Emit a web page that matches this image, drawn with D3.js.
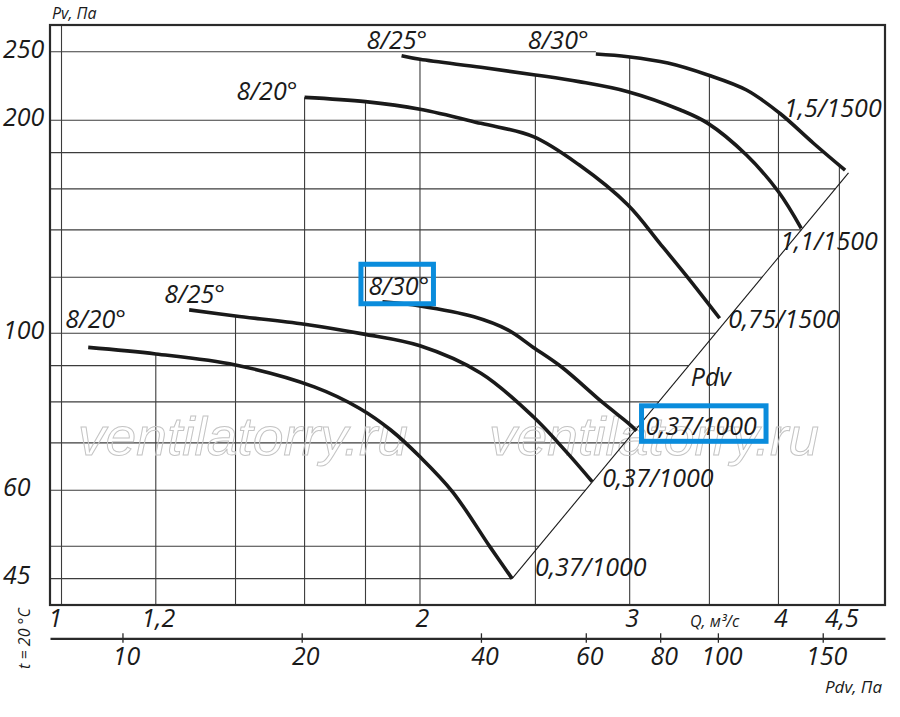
<!DOCTYPE html>
<html><head><meta charset="utf-8">
<script src="https://cdn.jsdelivr.net/npm/d3@7"></script>
<style>
html,body{margin:0;padding:0;background:#fff;}
svg{display:block;}
text{font-family:"Open Sans","Liberation Sans",sans-serif;font-style:italic;fill:#1a1a1a;}
</style></head><body>
<svg id="chart" width="900" height="717"></svg>
<script>
// ---------------- data ----------------
const qGrid = [1, 1.2, 1.4, 1.6, 1.8, 2, 2.5, 3, 3.5, 4, 4.5];
const qTickLabels = [1, 1.2, 2, 3, 4, 4.5];
const pGrid = [45, 50, 60, 70, 80, 90, 100, 120, 140, 160, 180, 200, 250];
const pTickLabels = [45, 60, 100, 200, 250];
const pdvTicks = [10, 20, 40, 60, 80, 100, 150];
const pdvCoef = 7.9;                // Pdv = 7.9 * Q^2
const qDomain = [0.978, 4.915];
const pDomain = [41.3, 272.7];

const bladeAngles = ["8/20°", "8/25°", "8/30°", "8/20°", "8/25°", "8/30°"];
const motors = ["0,37/1000", "0,37/1000", "0,37/1000", "0,75/1500", "1,1/1500", "1,5/1500"];

const curve1000_20 = [[1.053,95.5],[1.2,93.5],[1.4,90.2],[1.63,84],[1.78,78.3],[1.89,73],[2.0,66.9],[2.13,59.7],[2.29,49.9],[2.39,45]];
const curve1000_25 = [[1.28,107.9],[1.4,105.8],[1.6,103],[1.79,99.8],[2.0,96],[2.25,87.8],[2.49,76.2],[2.66,67.7],[2.79,61.7]];
const curve1000_30 = [[1.86,110.8],[2.0,109.3],[2.22,105.5],[2.37,101.1],[2.49,95.5],[2.63,89.6],[2.85,79.7],[2.99,74.7],[3.04,72.8]];
const curve1500_20 = [[1.6,215.5],[1.8,212.5],[2.0,207.3],[2.25,198],[2.49,189.6],[2.72,173],[2.99,151.8],[3.18,134],[3.37,118.9],[3.57,105]];
const curve1500_25 = [[1.93,246.8],[2.0,243.9],[2.25,237.6],[2.5,231.8],[2.72,226.8],[2.99,219.5],[3.31,206.8],[3.49,198],[3.76,178.6],[4.0,158.5],[4.18,140.7]];
const curve1500_30 = [[2.81,248.2],[2.99,246],[3.23,241],[3.49,231.8],[3.76,220.7],[4.01,204.6],[4.28,185.6],[4.55,170]];
const pdvLine = [[2.39,45],[4.58,168.5]];
const watermark = "ventilatorry.ru";

// ---------------- drawing ----------------
const curves = [curve1000_20, curve1000_25, curve1000_30, curve1500_20, curve1500_25, curve1500_30];
const svg = d3.select("#chart");
const L = 50, R = 885, T = 25, B = 605;
const x = d3.scaleLog().domain(qDomain).range([L, R]);
const y = d3.scaleLog().domain(pDomain).range([B, T]);
const xPdv = d3.scaleLog().domain(qDomain.map(q => pdvCoef * q * q)).range([L, R]);
const ink = "#1a1a1a";
const FS = "25px";

function pAt(c, q) {
  if (q < c[0][0] - 0.012 || q > c[c.length - 1][0] + 0.012) return null;
  q = Math.min(Math.max(q, c[0][0]), c[c.length - 1][0]);
  for (let i = 0; i < c.length - 1; i++) {
    const a = c[i], b = c[i + 1];
    if (q >= a[0] && q <= b[0]) {
      const t = (Math.log(q) - Math.log(a[0])) / (Math.log(b[0]) - Math.log(a[0]));
      return Math.exp(Math.log(a[1]) + t * (Math.log(b[1]) - Math.log(a[1])));
    }
  }
  return null;
}
function qAtP(c, p) {
  for (let i = 0; i < c.length - 1; i++) {
    const a = c[i], b = c[i + 1];
    const lo = Math.min(a[1], b[1]), hi = Math.max(a[1], b[1]);
    if (p >= lo && p <= hi) {
      const t = (Math.log(p) - Math.log(a[1])) / (Math.log(b[1]) - Math.log(a[1]));
      return Math.exp(Math.log(a[0]) + t * (Math.log(b[0]) - Math.log(a[0])));
    }
  }
  return null;
}

// grid
const grid = svg.append("g").attr("stroke", "#3c3c3c").attr("stroke-width", 1.1);
qGrid.forEach(q => {
  const ps = curves.map(c => pAt(c, q)).filter(v => v != null);
  const top = ps.length ? y(d3.max(ps)) : T;
  grid.append("line").attr("x1", x(q)).attr("x2", x(q)).attr("y1", top).attr("y2", B);
});
pGrid.forEach(p => {
  const xs = [];
  curves.forEach(c => {
    if (c[0][1] >= p && c[c.length - 1][1] < p) xs.push(x(qAtP(c, p)));
  });
  const dq = qAtP(pdvLine, p);
  if (dq != null) xs.push(x(dq));
  let right;
  if (xs.length) right = d3.max(xs);
  else {
    const top = curves.reduce((m, c) => (c[0][1] > m[0][1] ? c : m), curves[0]);
    right = x(top[0][0]);
  }
  grid.append("line").attr("x1", L).attr("x2", right).attr("y1", y(p)).attr("y2", y(p));
});

// watermark
svg.append("g").selectAll("text").data([78, 489]).join("text")
  .attr("x", d => d).attr("y", 455)
  .attr("textLength", 330).attr("lengthAdjust", "spacingAndGlyphs")
  .style("font-family", "'Liberation Sans', sans-serif")
  .style("font-size", "54px")
  .style("fill", "none").style("stroke", "#c4c4c4").style("stroke-width", 1)
  .text(watermark);

// frame
svg.append("rect").attr("x", L).attr("y", T).attr("width", R - L).attr("height", B - T)
  .attr("fill", "none").attr("stroke", "#2a2a2a").attr("stroke-width", 2.2);

// Pdv diagonal
const line = d3.line().x(d => x(d[0])).y(d => y(d[1]));
svg.append("path").attr("d", line(pdvLine)).attr("fill", "none").attr("stroke", ink).attr("stroke-width", 1.1);

// curves
const curveLine = d3.line().x(d => x(d[0])).y(d => y(d[1])).curve(d3.curveCatmullRom.alpha(0.5));
svg.append("g").selectAll("path").data(curves).join("path")
  .attr("d", d => curveLine(d)).attr("fill", "none").attr("stroke", ink).attr("stroke-width", 3.6);

// curve labels
const startOff = [[-23, -19], [-25, -6.5], [-14, -7], [-68, 3], [-35, -6.5], [-68, -5]];
const endOff = [[23, -2.5], [10, 5.5], [9, 4], [8.5, 10], [-21, 22], [-61, -53]];
const lab = svg.append("g").style("font-size", FS);
const startLabels = curves.map((c, i) => lab.append("text")
  .attr("x", x(c[0][0]) + startOff[i][0]).attr("y", y(c[0][1]) + startOff[i][1]).text(bladeAngles[i]));
const endLabels = curves.map((c, i) => lab.append("text")
  .attr("x", x(c[c.length - 1][0]) + endOff[i][0]).attr("y", y(c[c.length - 1][1]) + endOff[i][1]).text(motors[i]));
const pdvLabelP = 84.2;
lab.append("text").attr("x", x(qAtP(pdvLine, pdvLabelP)) + 19).attr("y", y(pdvLabelP)).text("Pdv");

// highlight boxes
function box(t, dl, dt, w, h) {
  const bx = +t.attr("x"), by = +t.attr("y");
  svg.append("rect").attr("x", bx + dl).attr("y", by + dt).attr("width", w).attr("height", h)
    .attr("fill", "none").attr("stroke", "#0a8cdc").attr("stroke-width", 5);
}
box(startLabels[2], -7.5, -30.5, 72.5, 39.5);
box(endLabels[2], -4, -29, 124.5, 35.5);

// Y labels
svg.append("g").style("font-size", FS).selectAll("text").data(pTickLabels).join("text")
  .attr("x", 3).attr("y", d => y(d) + 5.8).text(d => d);

// Q axis labels
const fmt = d => String(d).replace(".", ",");
const qAxis = svg.append("g").attr("transform", `translate(0,${B})`)
  .call(d3.axisBottom(x).tickValues(qTickLabels).tickSize(0).tickFormat(fmt));
qAxis.attr("font-family", null).attr("font-size", null);
qAxis.select(".domain").remove();
qAxis.selectAll("text").attr("y", 22).attr("dy", null).attr("x", 2)
  .style("font-size", FS).attr("fill", ink);
qAxis.selectAll(".tick").filter(d => d === qTickLabels[0]).select("text")
  .attr("text-anchor", "start").attr("x", -13.5);

// Pdv axis
const pdvY = 638.3;
const pAxis = svg.append("g").attr("transform", `translate(0,${pdvY})`)
  .call(d3.axisBottom(xPdv).tickValues(pdvTicks).tickSizeOuter(0).tickSizeInner(4.5).tickFormat(fmt));
pAxis.attr("font-family", null).attr("font-size", null);
pAxis.select(".domain").attr("stroke", "#2a2a2a").attr("stroke-width", 2.2);
pAxis.selectAll(".tick line").attr("y1", -5).attr("y2", 4.5).attr("stroke", "#2a2a2a").attr("stroke-width", 1.3);
pAxis.selectAll("text").attr("y", 27).attr("dy", null).attr("x", 3.5)
  .style("font-size", FS).attr("fill", ink);

// titles
svg.append("text").attr("x", 52).attr("y", 19).style("font-size", "16px").text("Pv, Па");
svg.append("text").attr("x", 690).attr("y", 627).style("font-size", "16px").text("Q, м³/с");
svg.append("text").attr("x", 882).attr("y", 693).attr("text-anchor", "end").style("font-size", "17px").text("Pdv, Па");
svg.append("text").attr("transform", "translate(29.5,638.5) rotate(-90)").attr("text-anchor", "middle")
  .style("font-size", "16px").text("t = 20 °C");
</script>
</body></html>
